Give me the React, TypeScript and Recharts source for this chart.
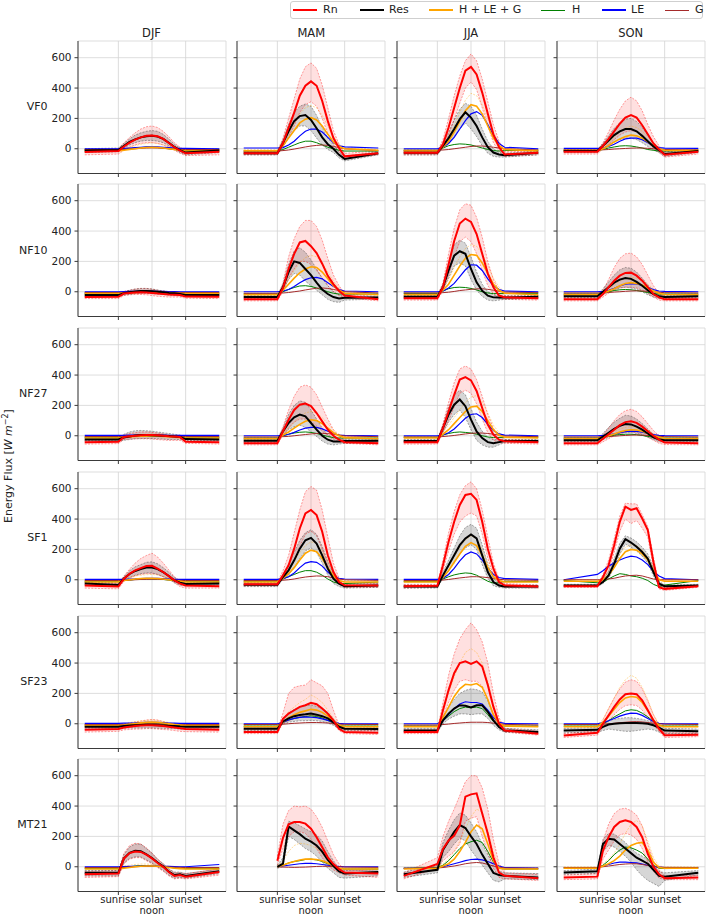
import React from "react";
import { ComposedChart, Line, Area, XAxis, YAxis, CartesianGrid } from "recharts";

// ── axes / labels ───────────────────────────────────────────────────────────
const HOURS = [0, 6, 7, 8, 9, 10, 11, 12, 13, 14, 15, 16, 17, 18, 24];
const SEASONS = ["DJF", "MAM", "JJA", "SON"];
const SITES = ["VF0", "NF10", "NF27", "SF1", "SF23", "MT21"];
const Y_TICKS = [0, 200, 400, 600];
const X_TICKS = [6, 12, 18];
const X_TICK_LABELS = [["sunrise"], ["solar", "noon"], ["sunset"]];
const LEGEND_LABELS = ["Rn", "Res", "H + LE + G", "H", "LE", "G"];

// each panel: [Rn, RnHi, RnLo, Res, ResHi, ResLo, HLEG, HLEGHi, H, LE, G] at HOURS
const VF0_DJF = [
  [-22, -15, 15, 40, 60, 75, 85, 88, 82, 65, 38, 10, -12, -30, -20],
  [-5, 0, 40, 75, 105, 130, 145, 150, 140, 115, 80, 40, 10, -10, -5],
  [-40, -35, -10, 10, 25, 35, 40, 40, 35, 25, 10, -10, -30, -45, -40],
  [-12, -8, 20, 45, 62, 75, 82, 85, 80, 65, 40, 12, -10, -25, -12],
  [0, 5, 35, 65, 90, 105, 115, 120, 115, 95, 65, 30, 5, -10, 0],
  [-25, -20, 5, 25, 40, 50, 55, 55, 50, 40, 20, -5, -25, -40, -25],
  [-15, -15, -10, -5, 0, 5, 8, 10, 8, 5, 0, -5, -10, -15, -15],
  [-5, -5, 0, 10, 20, 30, 35, 40, 35, 25, 15, 5, -5, -5, -5],
  [-10, -10, -5, 0, 5, 8, 10, 10, 8, 5, 0, -5, -8, -10, -10],
  [0, 0, 2, 5, 8, 10, 12, 12, 12, 10, 8, 5, 3, 2, 0],
  [-5, -5, -4, -2, 0, 3, 5, 6, 5, 3, 0, -2, -4, -5, -5],
];
const VF0_MAM = [
  [-29, -29, 38, 138, 238, 350, 415, 444, 415, 315, 182, 71, 5, -50, -29],
  [-15, -15, 70, 200, 330, 460, 540, 566, 530, 420, 270, 120, 30, -30, -15],
  [-40, -40, 10, 80, 150, 240, 290, 310, 280, 200, 100, 30, -20, -65, -40],
  [-29, -29, 38, 115, 182, 215, 222, 190, 135, 75, 30, 0, -40, -67, -30],
  [-20, -20, 60, 160, 240, 280, 295, 280, 220, 140, 70, 25, -20, -50, -20],
  [-40, -40, 15, 70, 120, 150, 150, 120, 70, 25, -5, -25, -60, -80, -40],
  [-13, -13, 20, 70, 120, 170, 195, 205, 190, 150, 95, 45, 15, 0, -10],
  [-5, -5, 35, 100, 170, 230, 270, 285, 270, 220, 150, 80, 30, 10, -5],
  [-15, -15, -5, 10, 25, 40, 50, 50, 40, 25, 10, 0, -10, -15, -15],
  [5, 5, 8, 25, 50, 85, 115, 130, 130, 110, 75, 40, 20, 12, 5],
  [-15, -15, -12, -8, -2, 5, 12, 18, 22, 25, 22, 15, 8, 0, -12],
];
const VF0_JJA = [
  [-26, -26, 30, 140, 270, 400, 515, 540, 490, 370, 230, 95, 10, -37, -26],
  [-15, -15, 60, 200, 350, 480, 580, 625, 580, 460, 310, 160, 50, -20, -15],
  [-40, -40, 10, 90, 190, 300, 400, 440, 390, 270, 150, 40, -20, -50, -40],
  [-26, -26, 20, 70, 130, 195, 240, 205, 150, 75, 10, -25, -38, -42, -26],
  [-15, -15, 40, 110, 190, 260, 300, 280, 220, 130, 50, 0, -25, -30, -15],
  [-40, -40, 5, 40, 80, 130, 170, 130, 80, 20, -30, -50, -55, -55, -40],
  [-15, -15, 10, 50, 110, 180, 250, 290, 280, 230, 150, 70, 20, -5, -15],
  [-5, -5, 25, 80, 150, 240, 320, 365, 350, 290, 200, 110, 40, 5, -5],
  [-10, -10, 5, 20, 28, 32, 30, 25, 15, 5, -5, -12, -15, -12, -10],
  [0, 0, 10, 35, 75, 130, 185, 230, 245, 220, 160, 90, 35, 10, 0],
  [-10, -10, -8, -5, 0, 5, 10, 15, 18, 18, 15, 10, 5, 0, -8],
];
const VF0_SON = [
  [-20, -20, 20, 65, 115, 165, 205, 222, 205, 155, 95, 35, -5, -40, -20],
  [-10, -10, 40, 110, 190, 260, 315, 340, 315, 250, 160, 80, 20, -20, -10],
  [-35, -35, 0, 30, 60, 90, 110, 120, 110, 80, 40, 5, -25, -55, -35],
  [-15, -15, 20, 55, 90, 115, 130, 130, 115, 85, 50, 15, -10, -35, -15],
  [-5, -5, 35, 85, 135, 170, 195, 200, 180, 140, 90, 40, 5, -20, -5],
  [-25, -25, 5, 25, 45, 60, 70, 70, 60, 40, 15, -10, -25, -50, -25],
  [-12, -12, 0, 20, 45, 65, 80, 90, 85, 70, 45, 20, 0, -10, -12],
  [-5, -5, 10, 40, 80, 110, 135, 150, 140, 115, 80, 40, 10, -5, -5],
  [-10, -10, -5, 5, 12, 18, 20, 18, 12, 5, -5, -10, -15, -15, -10],
  [2, 2, 5, 15, 30, 50, 65, 70, 70, 60, 40, 20, 8, 4, 2],
  [-8, -8, -7, -5, -2, 0, 2, 4, 5, 5, 3, 0, -3, -5, -8],
];

const NF10_DJF = [
  [-35, -33, -12, -8, -5, -3, -5, -8, -12, -15, -18, -20, -22, -32, -33],
  [-20, -18, 0, 10, 18, 22, 22, 18, 10, 5, 0, -5, -10, -20, -20],
  [-45, -45, -25, -20, -18, -18, -20, -25, -30, -32, -35, -35, -35, -42, -45],
  [-22, -22, -10, -3, 2, 5, 5, 3, 0, -3, -8, -10, -15, -22, -22],
  [-10, -10, 2, 10, 18, 22, 22, 18, 12, 5, 0, -3, -5, -12, -10],
  [-32, -32, -22, -18, -12, -10, -10, -12, -15, -18, -22, -25, -28, -32, -32],
  [-12, -12, -10, -8, -5, -3, -2, -3, -5, -7, -9, -10, -11, -12, -12],
  [-5, -5, -2, 2, 5, 7, 8, 7, 5, 2, 0, -2, -4, -5, -5],
  [-10, -10, -8, -5, -3, -2, -2, -2, -4, -6, -8, -9, -10, -10, -10],
  [0, 0, 1, 2, 3, 4, 4, 4, 3, 2, 1, 1, 0, 0, 0],
  [-5, -5, -4, -3, -2, -1, 0, 0, -1, -2, -3, -4, -5, -5, -5],
];
const NF10_MAM = [
  [-49, -49, 25, 150, 250, 325, 335, 300, 255, 185, 105, 50, 5, -25, -49],
  [-35, -35, 60, 230, 350, 430, 470, 470, 430, 340, 220, 110, 40, -10, -35],
  [-60, -60, 0, 90, 150, 200, 200, 180, 140, 90, 40, 0, -25, -40, -60],
  [-35, -35, 30, 130, 200, 190, 150, 110, 60, 15, -15, -35, -45, -40, -38],
  [-25, -25, 50, 180, 270, 290, 260, 210, 150, 90, 40, 0, -20, -30, -28],
  [-45, -45, 10, 80, 120, 110, 70, 40, 10, -20, -50, -65, -70, -55, -48],
  [-20, -20, 10, 50, 90, 125, 150, 165, 160, 130, 85, 40, 10, -10, -20],
  [-10, -10, 20, 80, 140, 190, 225, 240, 230, 190, 130, 70, 25, 0, -10],
  [-15, -15, 0, 15, 28, 38, 40, 35, 25, 12, 0, -10, -15, -15, -15],
  [0, 0, 5, 15, 35, 60, 80, 92, 95, 85, 60, 35, 15, 5, 0],
  [-10, -10, -8, -5, 0, 5, 12, 18, 23, 25, 22, 15, 8, 0, -8],
];
const NF10_JJA = [
  [-42, -42, 30, 180, 335, 450, 482, 460, 380, 250, 120, 30, -25, -37, -42],
  [-30, -30, 60, 250, 420, 540, 580, 570, 490, 360, 200, 80, 10, -25, -30],
  [-55, -55, 5, 110, 230, 330, 360, 330, 250, 140, 40, -15, -45, -50, -55],
  [-33, -33, 30, 140, 238, 267, 250, 150, 62, 7, -26, -37, -38, -38, -33],
  [-25, -25, 50, 190, 310, 340, 320, 230, 130, 50, 0, -20, -25, -28, -25],
  [-45, -45, 10, 90, 170, 190, 170, 80, 10, -30, -55, -60, -55, -50, -45],
  [-20, -20, 10, 50, 110, 170, 220, 245, 240, 190, 120, 50, 10, -10, -20],
  [-10, -10, 25, 80, 160, 230, 285, 310, 300, 250, 170, 90, 30, 0, -10],
  [-10, -10, 5, 20, 28, 30, 28, 22, 12, 0, -8, -12, -12, -12, -10],
  [0, 0, 5, 25, 55, 100, 145, 178, 175, 140, 85, 40, 15, 5, 0],
  [-8, -8, -6, -3, 2, 8, 12, 16, 19, 20, 16, 10, 4, -2, -6],
];
const NF10_SON = [
  [-50, -50, -15, 30, 73, 106, 124, 126, 106, 73, 30, -15, -37, -50, -50],
  [-40, -40, 10, 80, 160, 220, 250, 255, 230, 180, 110, 40, -10, -35, -40],
  [-60, -60, -35, -10, 10, 25, 30, 30, 25, 10, -10, -35, -55, -60, -60],
  [-30, -30, 0, 30, 60, 80, 90, 85, 65, 40, 10, -15, -30, -35, -30],
  [-20, -20, 20, 65, 110, 145, 160, 155, 130, 90, 45, 5, -20, -25, -20],
  [-40, -40, -20, 0, 15, 25, 30, 25, 15, 0, -20, -35, -45, -45, -40],
  [-20, -20, -10, 5, 20, 40, 55, 60, 55, 45, 25, 5, -10, -18, -20],
  [-10, -10, 0, 20, 45, 70, 90, 95, 90, 75, 50, 20, 0, -8, -10],
  [-15, -15, -8, 0, 8, 13, 15, 13, 8, 2, -5, -12, -15, -15, -15],
  [0, 0, 3, 10, 22, 38, 50, 54, 52, 42, 28, 14, 5, 2, 0],
  [-8, -8, -7, -5, -2, 0, 3, 5, 6, 5, 3, 0, -3, -6, -8],
];

const NF27_DJF = [
  [-42, -40, -8, -3, 0, 3, 5, 5, 3, 0, -3, -5, -8, -40, -42],
  [-30, -28, 5, 15, 20, 25, 25, 22, 18, 12, 5, 0, -5, -30, -30],
  [-55, -52, -25, -22, -20, -20, -20, -22, -25, -28, -30, -30, -30, -50, -55],
  [-25, -25, -12, -5, 2, 5, 5, 4, 2, 0, -2, -5, -8, -22, -25],
  [-12, -12, 10, 25, 33, 35, 33, 30, 25, 20, 15, 10, 5, -10, -12],
  [-35, -35, -30, -25, -20, -18, -18, -18, -20, -22, -25, -25, -25, -32, -35],
  [-15, -15, -10, -8, -5, -3, -2, -2, -3, -5, -7, -10, -12, -15, -15],
  [-5, -5, 0, 3, 5, 8, 10, 10, 8, 5, 2, 0, -3, -5, -5],
  [-10, -10, -8, -6, -4, -3, -2, -2, -3, -4, -6, -8, -9, -10, -10],
  [2, 2, 3, 4, 5, 6, 6, 6, 5, 4, 3, 3, 2, 2, 2],
  [-5, -5, -4, -3, -2, -1, 0, 0, -1, -2, -3, -4, -5, -5, -5],
];
const NF27_MAM = [
  [-49, -49, 30, 105, 170, 205, 212, 195, 150, 95, 40, 0, -26, -42, -49],
  [-35, -35, 60, 170, 260, 320, 335, 320, 270, 190, 110, 40, -5, -30, -35],
  [-60, -60, 5, 50, 90, 110, 110, 95, 65, 30, 0, -25, -40, -50, -60],
  [-33, -33, 29, 84, 121, 139, 128, 84, 40, 0, -26, -37, -37, -35, -33],
  [-22, -22, 50, 140, 200, 230, 220, 170, 110, 50, 5, -15, -20, -22, -22],
  [-45, -45, 5, 40, 60, 70, 55, 25, -5, -35, -55, -60, -55, -50, -45],
  [-20, -20, 5, 25, 50, 75, 95, 105, 100, 80, 50, 20, 0, -12, -20],
  [-10, -10, 20, 50, 90, 125, 150, 160, 150, 120, 80, 40, 10, -5, -10],
  [-15, -15, 0, 10, 18, 23, 25, 22, 15, 5, -5, -12, -15, -15, -15],
  [0, 0, 3, 10, 22, 38, 50, 55, 55, 45, 30, 15, 5, 2, 0],
  [-8, -8, -6, -4, 0, 4, 8, 12, 15, 16, 14, 10, 5, -1, -6],
];
const NF27_JJA = [
  [-42, -42, 50, 160, 270, 370, 387, 365, 295, 183, 73, 7, -26, -37, -42],
  [-30, -30, 80, 220, 350, 440, 460, 440, 370, 260, 140, 50, 0, -25, -30],
  [-55, -55, 20, 100, 190, 280, 300, 280, 210, 110, 20, -30, -45, -50, -55],
  [-35, -35, 50, 140, 205, 239, 195, 106, 29, -15, -42, -49, -42, -35, -35],
  [-25, -25, 70, 190, 270, 300, 270, 180, 90, 30, -10, -25, -25, -25, -25],
  [-45, -45, 25, 90, 140, 170, 120, 40, -30, -60, -75, -75, -60, -45, -45],
  [-15, -15, 10, 40, 80, 120, 160, 190, 195, 160, 100, 40, 5, -10, -15],
  [-5, -5, 25, 70, 120, 170, 220, 255, 265, 225, 150, 70, 20, 0, -5],
  [-10, -10, 5, 15, 22, 25, 22, 18, 10, 0, -8, -12, -12, -12, -10],
  [0, 0, 5, 20, 45, 80, 115, 140, 145, 120, 75, 35, 12, 4, 0],
  [-8, -8, -5, -2, 2, 7, 12, 16, 18, 18, 15, 10, 4, -2, -6],
];
const NF27_SON = [
  [-49, -49, -20, 10, 40, 70, 90, 95, 85, 60, 30, 0, -25, -45, -49],
  [-35, -35, 5, 50, 100, 140, 165, 175, 160, 125, 80, 35, 0, -30, -35],
  [-60, -60, -40, -20, 0, 15, 25, 25, 20, 10, -10, -30, -50, -58, -60],
  [-30, -30, -5, 20, 45, 65, 77, 75, 60, 40, 15, -10, -25, -30, -30],
  [-20, -20, 15, 55, 90, 115, 135, 130, 110, 80, 45, 10, -10, -20, -20],
  [-40, -40, -25, -10, 5, 15, 20, 20, 15, 5, -10, -25, -40, -42, -40],
  [-20, -20, -10, 0, 12, 25, 35, 40, 38, 30, 15, 0, -10, -18, -20],
  [-10, -10, 0, 15, 30, 45, 55, 60, 58, 50, 35, 15, 0, -8, -10],
  [-15, -15, -8, -2, 3, 8, 10, 10, 7, 2, -4, -10, -14, -15, -15],
  [0, 0, 2, 6, 12, 20, 27, 30, 29, 24, 16, 8, 3, 1, 0],
  [-8, -8, -7, -5, -3, 0, 2, 4, 5, 4, 2, 0, -3, -6, -8],
];

const SF1_DJF = [
  [-38, -45, 7, 40, 62, 77, 90, 92, 73, 51, 24, -4, -26, -38, -42],
  [-20, -25, 25, 70, 110, 140, 160, 175, 150, 110, 65, 20, -10, -25, -20],
  [-55, -60, -10, 10, 25, 35, 40, 40, 35, 20, 5, -20, -45, -55, -55],
  [-25, -35, 8, 38, 58, 70, 80, 80, 70, 50, 25, -5, -20, -28, -25],
  [-15, -20, 20, 60, 85, 100, 115, 118, 105, 80, 50, 15, -5, -18, -15],
  [-35, -45, -5, 15, 30, 40, 45, 45, 35, 20, 5, -20, -35, -40, -35],
  [-15, -15, -5, 0, 5, 8, 10, 10, 8, 5, 0, -5, -10, -15, -15],
  [-8, -8, 5, 15, 25, 30, 33, 35, 30, 20, 10, 0, -5, -8, -8],
  [-10, -10, -5, -2, 2, 4, 5, 5, 4, 2, -2, -5, -8, -10, -10],
  [2, 2, 3, 5, 6, 8, 9, 10, 9, 7, 5, 3, 2, 2, 2],
  [-5, -5, -4, -2, 0, 2, 3, 4, 3, 2, 0, -2, -4, -5, -5],
];
const SF1_MAM = [
  [-30, -30, 29, 95, 205, 338, 437, 460, 426, 316, 161, 51, -15, -37, -38],
  [-15, -15, 60, 160, 310, 460, 580, 615, 590, 460, 280, 110, 10, -25, -25],
  [-40, -40, 10, 60, 130, 220, 300, 320, 290, 200, 90, 20, -30, -50, -50],
  [-33, -33, 18, 62, 128, 205, 260, 276, 239, 161, 73, 7, -26, -42, -37],
  [-20, -20, 35, 100, 180, 260, 310, 330, 300, 220, 120, 40, -10, -30, -25],
  [-45, -45, 5, 30, 80, 140, 190, 210, 180, 110, 30, -25, -45, -55, -50],
  [-15, -15, 10, 40, 80, 130, 175, 195, 185, 140, 80, 25, -5, -15, -15],
  [-5, -5, 25, 70, 120, 180, 225, 250, 240, 190, 120, 50, 5, -5, -5],
  [-10, -10, 5, 20, 35, 50, 60, 60, 50, 30, 5, -15, -25, -25, -15],
  [2, 2, 8, 20, 45, 80, 110, 120, 115, 90, 50, 20, 10, 5, 2],
  [-5, -5, -3, 0, 5, 12, 18, 22, 25, 24, 20, 12, 5, 0, -4],
];
const SF1_JJA = [
  [-42, -40, 95, 250, 382, 493, 559, 566, 526, 382, 205, 73, -15, -37, -45],
  [-30, -30, 130, 310, 450, 560, 620, 645, 600, 460, 280, 110, 5, -25, -35],
  [-55, -50, 60, 190, 300, 380, 420, 440, 420, 300, 140, 30, -30, -50, -55],
  [-44, -44, 29, 95, 161, 228, 272, 298, 272, 161, 51, -15, -38, -44, -44],
  [-35, -35, 50, 130, 210, 290, 345, 365, 340, 230, 100, 10, -25, -35, -35],
  [-55, -55, 10, 60, 110, 170, 210, 230, 200, 100, 10, -40, -50, -55, -55],
  [-15, -15, 15, 60, 115, 170, 220, 245, 225, 160, 80, 20, -5, -15, -15],
  [-5, -5, 30, 90, 150, 210, 260, 290, 270, 200, 110, 35, 5, -5, -5],
  [-12, -12, 5, 20, 32, 40, 45, 42, 30, 10, -10, -22, -20, -10, -12],
  [2, 2, 10, 35, 75, 125, 165, 183, 170, 130, 75, 35, 15, 8, 2],
  [-5, -5, -2, 2, 7, 12, 16, 20, 20, 18, 14, 8, 3, 0, -4],
];
const SF1_SON = [
  [-42, -42, 18, 95, 228, 382, 482, 460, 471, 404, 327, 117, -49, -60, -42],
  [-35, -35, 35, 130, 270, 420, 505, 500, 500, 430, 350, 150, -30, -50, -35],
  [-50, -50, 5, 60, 180, 320, 400, 370, 390, 340, 280, 80, -60, -70, -50],
  [-38, -38, -15, 29, 106, 205, 267, 245, 217, 183, 139, 51, -26, -42, -38],
  [-30, -30, 0, 55, 140, 240, 290, 275, 250, 215, 170, 80, -10, -35, -30],
  [-45, -45, -25, 10, 80, 170, 235, 215, 190, 155, 110, 25, -40, -50, -45],
  [-10, -10, 0, 30, 80, 140, 185, 200, 195, 170, 130, 60, 0, -10, -10],
  [0, 0, 10, 50, 110, 170, 215, 230, 225, 195, 150, 75, 10, 0, 0],
  [-5, -20, -15, 5, 25, 40, 35, 25, 20, 10, -5, -30, -45, -35, -5],
  [0, 35, 60, 90, 110, 130, 145, 155, 150, 130, 100, 55, 25, 8, 0],
  [0, 0, 0, 5, 10, 18, 25, 28, 30, 25, 15, 5, 0, 0, 0],
];

const SF23_DJF = [
  [-40, -35, -25, -20, -15, -12, -10, -10, -12, -15, -20, -25, -30, -35, -40],
  [-25, -20, -5, 5, 12, 18, 25, 28, 25, 15, 5, -5, -15, -20, -25],
  [-55, -50, -40, -38, -35, -35, -32, -32, -35, -38, -40, -45, -50, -52, -55],
  [-20, -20, -15, -12, -10, -8, -8, -8, -10, -12, -15, -15, -18, -20, -20],
  [-5, -5, 0, 3, 5, 8, 10, 10, 8, 5, 2, 0, -3, -5, -5],
  [-35, -35, -30, -28, -28, -28, -28, -28, -30, -30, -32, -32, -35, -35, -35],
  [-12, -12, -8, -3, 2, 6, 10, 12, 10, 5, 0, -5, -8, -12, -12],
  [-5, -5, 0, 8, 14, 18, 22, 25, 22, 15, 8, 0, -3, -5, -5],
  [-15, -15, -10, -5, -2, 0, 2, 2, 0, -3, -6, -10, -12, -14, -15],
  [3, 3, 4, 5, 6, 8, 10, 10, 9, 7, 5, 4, 3, 3, 3],
  [-5, -5, -4, -3, -2, -1, 0, 0, -1, -2, -3, -4, -5, -5, -5],
];
const SF23_MAM = [
  [-55, -55, 33, 67, 89, 111, 122, 138, 129, 100, 67, 22, -33, -55, -60],
  [-40, -40, 70, 200, 240, 250, 255, 290, 270, 250, 200, 90, -10, -40, -45],
  [-65, -65, 5, 20, 35, 45, 50, 55, 50, 40, 25, 0, -45, -65, -70],
  [-33, -33, 15, 35, 50, 58, 62, 67, 60, 50, 35, 10, -20, -33, -35],
  [-20, -20, 35, 70, 95, 110, 120, 125, 115, 100, 75, 30, -5, -20, -22],
  [-45, -45, 0, 10, 15, 20, 20, 22, 20, 15, 5, -10, -35, -45, -48],
  [-20, -20, 10, 40, 60, 75, 85, 95, 90, 75, 50, 15, -10, -20, -20],
  [-10, -10, 30, 80, 110, 140, 160, 190, 170, 140, 90, 35, 0, -10, -10],
  [-15, -15, 10, 25, 35, 42, 48, 52, 48, 38, 22, 5, -12, -15, -15],
  [0, 0, 10, 25, 35, 42, 45, 43, 40, 32, 22, 10, 2, 0, 0],
  [-5, -5, -3, 0, 3, 5, 7, 8, 8, 7, 5, 2, -2, -4, -5],
];
const SF23_JJA = [
  [-55, -55, 89, 222, 333, 400, 411, 395, 411, 377, 255, 111, 0, -44, -66],
  [-40, -40, 140, 320, 460, 560, 620, 665, 620, 540, 400, 200, 40, -30, -50],
  [-65, -65, 50, 140, 220, 280, 290, 280, 280, 250, 160, 50, -30, -55, -75],
  [-44, -44, 22, 67, 100, 122, 118, 108, 122, 122, 78, 22, -22, -44, -55],
  [-30, -30, 50, 110, 160, 200, 220, 230, 225, 210, 150, 60, 0, -30, -40],
  [-55, -55, 0, 30, 50, 65, 65, 60, 65, 65, 35, -10, -40, -55, -65],
  [-20, -20, 40, 110, 180, 230, 260, 255, 265, 240, 160, 60, 0, -15, -20],
  [-10, -10, 80, 200, 310, 400, 470, 495, 470, 400, 280, 120, 20, -5, -10],
  [-15, -15, 20, 50, 80, 100, 110, 105, 110, 100, 60, 15, -10, -15, -15],
  [0, 0, 20, 60, 100, 130, 145, 140, 140, 130, 90, 40, 10, 2, 0],
  [-8, -8, -5, -2, 2, 5, 8, 10, 10, 10, 8, 4, 0, -4, -8],
];
const SF23_SON = [
  [-78, -60, 0, 55, 111, 160, 195, 200, 195, 155, 89, 22, -33, -75, -73],
  [-65, -45, 25, 100, 170, 230, 275, 290, 280, 230, 150, 60, -10, -60, -60],
  [-90, -75, -20, 20, 60, 95, 120, 125, 120, 90, 40, -5, -50, -90, -85],
  [-45, -40, -20, -5, 0, 3, 5, 5, 5, 3, 0, -10, -25, -45, -50],
  [-30, -25, 5, 20, 30, 35, 40, 40, 35, 30, 20, 10, -5, -30, -35],
  [-60, -55, -45, -35, -40, -45, -50, -50, -45, -40, -35, -40, -55, -65, -65],
  [-20, -20, 10, 50, 95, 140, 170, 180, 175, 140, 85, 25, -10, -20, -20],
  [-10, -10, 30, 100, 170, 240, 290, 320, 300, 240, 160, 60, 0, -10, -10],
  [-15, -15, 0, 20, 45, 65, 85, 92, 88, 70, 45, 15, -10, -15, -15],
  [0, 0, 8, 20, 35, 50, 62, 70, 68, 55, 35, 15, 3, 0, 0],
  [-5, -5, -3, 0, 3, 7, 10, 13, 14, 12, 8, 3, 0, -3, -5],
];

const MT21_DJF = [
  [-50, -45, 55, 90, 100, 98, 80, 55, 25, 0, -35, -60, -55, -65, -35],
  [-30, -25, 90, 140, 155, 150, 125, 90, 50, 20, -15, -40, -40, -45, -15],
  [-70, -65, 20, 50, 60, 60, 40, 20, -5, -30, -60, -80, -75, -80, -55],
  [-40, -40, 55, 92, 105, 103, 82, 58, 28, 3, -32, -55, -50, -60, -30],
  [-25, -25, 80, 130, 150, 150, 120, 90, 50, 20, -15, -35, -35, -45, -15],
  [-60, -60, 25, 55, 65, 65, 45, 25, 0, -25, -55, -75, -70, -75, -45],
  [-15, -15, -10, -5, 0, 3, 5, 5, 3, 0, -5, -10, -12, -15, -15],
  [-5, -5, 5, 10, 15, 18, 18, 15, 12, 8, 3, 0, -3, -5, -5],
  [-12, -12, -5, 0, 5, 8, 8, 6, 3, 0, -3, -8, -10, -12, -12],
  [0, 0, 1, 2, 3, 4, 5, 5, 4, 3, 2, 1, 0, 0, 15],
  [-5, -5, -4, -2, 0, 2, 3, 3, 2, 0, -2, -3, -4, -5, -5],
];
const MT21_MAM = [
  [null, 40, 190, 280, 295, 295, 284, 251, 195, 129, 62, 18, -16, -38, -45],
  [null, 70, 280, 370, 400, 395, 400, 380, 330, 260, 170, 80, 20, -20, -30],
  [null, 10, 120, 200, 230, 230, 220, 180, 120, 60, 10, -20, -40, -55, -70],
  [null, 0, 20, 265, 240, 215, 185, 165, 140, 100, 45, 5, -30, -45, -35],
  [null, 10, 60, 300, 290, 270, 250, 230, 210, 170, 100, 40, -10, -25, -20],
  [null, -10, 0, 200, 180, 150, 120, 100, 70, 30, -10, -40, -70, -75, -60],
  [null, 0, 10, 25, 35, 45, 50, 50, 48, 40, 25, 5, -10, -15, -15],
  [null, 5, 40, 100, 140, 155, 150, 140, 120, 90, 50, 15, -5, -10, -10],
  [null, 0, 10, 25, 35, 40, 48, 50, 45, 35, 20, 5, -10, -15, -15],
  [null, 0, 5, 10, 15, 20, 22, 22, 20, 15, 10, 5, 2, 0, 0],
  [null, 0, -2, -3, -4, -3, -2, 0, 2, 3, 3, 2, 0, -2, -4],
];
const MT21_JJA = [
  [-60, 18, 118, 173, 206, 273, 462, 477, 484, 351, 218, 62, -38, -60, -75],
  [-40, 60, 200, 300, 380, 470, 560, 600, 600, 520, 380, 180, 20, -40, -50],
  [-80, -10, 40, 70, 100, 150, 300, 320, 330, 200, 90, -10, -70, -80, -90],
  [-50, -20, 110, 170, 230, 275, 255, 200, 150, 80, 20, -40, -55, -60, -70],
  [-35, 10, 160, 240, 310, 355, 340, 290, 230, 150, 80, 10, -30, -40, -45],
  [-70, -40, 60, 100, 150, 190, 170, 110, 60, 10, -40, -90, -100, -80, -85],
  [-15, -10, 5, 20, 50, 100, 160, 230, 275, 250, 150, 40, -10, -15, -15],
  [-5, 0, 20, 50, 100, 170, 250, 330, 380, 360, 240, 90, 10, -5, -5],
  [-10, -5, 10, 40, 80, 120, 150, 165, 175, 160, 100, 30, -10, -15, -15],
  [-10, -8, 0, 10, 20, 30, 40, 48, 50, 45, 35, 20, 5, -5, -8],
  [-10, -8, -5, 0, 5, 12, 20, 25, 28, 25, 15, 5, -2, -8, -10],
];
const MT21_SON = [
  [-71, -65, 107, 195, 262, 295, 306, 295, 262, 195, 84, 0, -49, -75, -71],
  [-55, -45, 170, 280, 350, 380, 385, 370, 340, 270, 150, 40, -20, -60, -55],
  [-85, -80, 50, 110, 170, 210, 220, 210, 180, 120, 30, -30, -75, -85, -85],
  [-38, -30, 150, 185, 180, 150, 120, 90, 60, 40, 20, -20, -60, -65, -40],
  [-25, -15, 180, 220, 215, 190, 160, 120, 90, 70, 45, 10, -30, -40, -25],
  [-50, -45, 100, 140, 130, 100, 70, 30, -20, -60, -90, -110, -130, -90, -55],
  [-10, -10, 5, 20, 40, 70, 110, 140, 155, 160, 110, 30, -5, -10, -10],
  [0, 0, 20, 50, 90, 150, 220, 280, 305, 270, 170, 60, 5, 0, 0],
  [-10, -8, 10, 40, 80, 110, 130, 125, 110, 90, 50, 10, -10, -12, -10],
  [-5, -5, 5, 15, 25, 30, 30, 28, 25, 18, 10, 3, -3, -5, -5],
  [-5, -5, 0, 5, 10, 15, 18, 20, 20, 15, 8, 2, -2, -4, -5],
];

const PANELS: any[][] = [
  [VF0_DJF, VF0_MAM, VF0_JJA, VF0_SON],
  [NF10_DJF, NF10_MAM, NF10_JJA, NF10_SON],
  [NF27_DJF, NF27_MAM, NF27_JJA, NF27_SON],
  [SF1_DJF, SF1_MAM, SF1_JJA, SF1_SON],
  [SF23_DJF, SF23_MAM, SF23_JJA, SF23_SON],
  [MT21_DJF, MT21_MAM, MT21_JJA, MT21_SON],
];

// ── layout ──────────────────────────────────────────────────────────────────
const FONT = "DejaVu Sans, sans-serif";
const COL_LEFT = [77.5, 237.3, 397, 556.7];
const ROW_TOP = [40.7, 184.4, 328.1, 471.8, 615.5, 759.2];
const FRAME_W = 148;
const FRAME_H = 132.5;
const AXIS_W = 40;
const AXIS_H = 24;
const PAD = 2;
const X_DOMAIN = [-1.2, 25.2];
const Y_DOMAIN = [-163, 710];
const FRAME = "#3a3a3a";

const C = {
  rn: "#ff0000",
  res: "#000000",
  hleg: "#ffa500",
  h: "#008000",
  le: "#0000ff",
  g: "#a52a2a",
};
const LEGEND_COLORS = [C.rn, C.res, C.hleg, C.h, C.le, C.g];
const LEGEND_WIDTHS = [2, 2.2, 2, 1, 1.2, 1];

function toRows(p: any[][]) {
  return HOURS.map((hr, i) => {
    const v = (k: number) => p[k][i];
    const band = (lo: number, hi: number) =>
      v(lo) == null || v(hi) == null ? null : [v(lo), v(hi)];
    return {
      hr,
      rn: v(0), rnHi: v(1), rnLo: v(2), rnBand: band(2, 1),
      res: v(3), resHi: v(4), resLo: v(5), resBand: band(5, 4),
      hleg: v(6), hlegHi: v(7),
      sh: v(8), le: v(9), g: v(10),
    };
  });
}

function HourTick({ x, y, payload, show }: any) {
  if (!show) return <g />;
  const idx = X_TICKS.indexOf(payload.value);
  const lines = X_TICK_LABELS[idx] ?? [];
  return (
    <text x={x} y={y} textAnchor="middle" fontSize={10} fill="#222" fontFamily={FONT}>
      {lines.map((l, i) => (
        <tspan key={i} x={x} dy={i === 0 ? "0.71em" : "1.05em"}>{l}</tspan>
      ))}
    </text>
  );
}

function dashed(key: string, color: string) {
  return (
    <Line
      dataKey={key}
      stroke={color}
      strokeOpacity={0.55}
      strokeWidth={0.7}
      strokeDasharray="2 1.3"
      dot={false}
      activeDot={false}
      connectNulls={false}
      isAnimationActive={false}
    />
  );
}

function solid(key: string, color: string, width: number) {
  return (
    <Line
      dataKey={key}
      stroke={color}
      strokeWidth={width}
      dot={false}
      activeDot={false}
      connectNulls={false}
      isAnimationActive={false}
    />
  );
}

function Panel({ row, col }: { row: number; col: number }) {
  const data = toRows(PANELS[row][col]);
  const showY = col === 0;
  const showX = row === SITES.length - 1;
  return (
    <div style={{ position: "absolute", left: COL_LEFT[col] - AXIS_W, top: ROW_TOP[row] - PAD }}>
      <ComposedChart
        width={FRAME_W + AXIS_W + PAD}
        height={FRAME_H + PAD + AXIS_H}
        data={data}
        margin={{ top: PAD, right: PAD, bottom: 0, left: 0 }}
      >
        <CartesianGrid stroke="#d4d4d4" strokeWidth={0.8} />
        <XAxis
          dataKey="hr" type="number" domain={X_DOMAIN} ticks={X_TICKS} allowDataOverflow
          height={AXIS_H} tickSize={3.5} tickMargin={1} interval={0}
          axisLine={{ stroke: FRAME }} tickLine={{ stroke: FRAME }}
          tick={<HourTick show={showX} />}
        />
        <XAxis
          xAxisId="top" orientation="top" dataKey="hr" type="number" domain={X_DOMAIN}
          allowDataOverflow height={0} tick={false} tickLine={false} axisLine={{ stroke: FRAME }}
        />
        <YAxis
          type="number" domain={Y_DOMAIN} ticks={Y_TICKS} allowDataOverflow width={AXIS_W}
          tickSize={3.5} tickMargin={3} interval={0}
          axisLine={{ stroke: FRAME }} tickLine={{ stroke: FRAME }}
          tick={{ fontSize: 10.5, fill: "#222", fontFamily: FONT }}
          tickFormatter={(v: number) => (showY ? String(v) : "")}
        />
        <YAxis
          yAxisId="right" orientation="right" type="number" domain={Y_DOMAIN} allowDataOverflow
          width={0} tick={false} tickLine={false} axisLine={{ stroke: FRAME }}
        />

        {/* spread bands */}
        <Area dataKey="rnBand" stroke="none" fill={C.rn} fillOpacity={0.12}
          activeDot={false} isAnimationActive={false} />
        <Area dataKey="resBand" stroke="none" fill="#000" fillOpacity={0.16}
          activeDot={false} isAnimationActive={false} />
        {dashed("rnHi", C.rn)}
        {dashed("rnLo", C.rn)}
        {dashed("resHi", "#222")}
        {dashed("resLo", "#222")}
        {dashed("hlegHi", C.hleg)}

        {/* means */}
        {solid("sh", C.h, 1)}
        {solid("le", C.le, 1.2)}
        {solid("g", C.g, 1)}
        {solid("hleg", C.hleg, 1.6)}
        {solid("res", C.res, 2)}
        {solid("rn", C.rn, 2)}
      </ComposedChart>
    </div>
  );
}

const LEGEND_X = [
  [293, 323], [360, 389], [429, 459], [541, 572], [602, 631], [665, 695],
];

export default function App() {
  return (
    <div
      style={{
        position: "absolute", left: 0, top: 0, width: 709, height: 915,
        background: "#fff", fontFamily: FONT, color: "#222", overflow: "hidden",
      }}
    >
      {/* legend */}
      <div
        style={{
          position: "absolute", left: 290, top: 1, width: 413, height: 18,
          border: "1px solid #cfcfcf", borderRadius: 3, boxSizing: "border-box",
        }}
      />
      {LEGEND_LABELS.map((lab, i) => (
        <React.Fragment key={lab}>
          <div
            style={{
              position: "absolute", left: LEGEND_X[i][0], top: 10 - LEGEND_WIDTHS[i] / 2,
              width: 24, height: LEGEND_WIDTHS[i], background: LEGEND_COLORS[i],
            }}
          />
          <div
            style={{
              position: "absolute", left: LEGEND_X[i][1], top: 3, fontSize: 11,
              lineHeight: "14px", whiteSpace: "nowrap",
            }}
          >
            {lab}
          </div>
        </React.Fragment>
      ))}

      {/* season titles */}
      {SEASONS.map((s, c) => (
        <div
          key={s}
          style={{
            position: "absolute", left: COL_LEFT[c], top: 26, width: FRAME_W,
            textAlign: "center", fontSize: 11.5, lineHeight: "14px",
          }}
        >
          {s}
        </div>
      ))}

      {/* site labels */}
      {SITES.map((s, r) => (
        <div
          key={s}
          style={{
            position: "absolute", left: 0, width: 47.5, top: ROW_TOP[r] + FRAME_H / 2 - 7,
            textAlign: "right", fontSize: 11, lineHeight: "14px",
          }}
        >
          {s}
        </div>
      ))}

      {/* shared y label */}
      <svg style={{ position: "absolute", left: 0, top: 366 }} width={18} height={200}>
        <text
          transform="translate(12,100) rotate(-90)" textAnchor="middle"
          fontSize={11} fill="#222" fontFamily={FONT}
        >
          Energy Flux [<tspan fontStyle="italic">W m</tspan>
          <tspan fontSize={8} dy={-4}>−2</tspan>
          <tspan dy={4}>]</tspan>
        </text>
      </svg>

      {SITES.map((_, r) =>
        SEASONS.map((__, c) => <Panel key={`${r}-${c}`} row={r} col={c} />)
      )}
    </div>
  );
}
